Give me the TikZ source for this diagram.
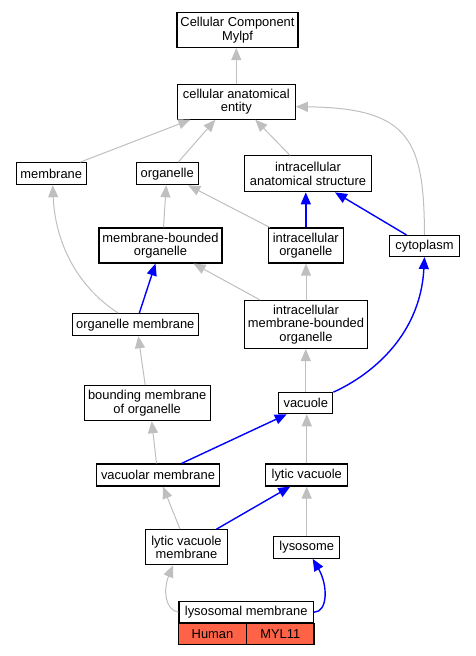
\documentclass[tikz,border=0pt]{standalone}
\usepackage{fontspec}
\setmainfont{Liberation Sans}
\usetikzlibrary{arrows.meta}
\definecolor{tomato}{RGB}{255,99,71}
\newcommand\termfont{\fontsize{12.9}{13.5}\selectfont}
\begin{document}
\begin{tikzpicture}[x=1pt,y=-1pt,
        term/.style={draw,line width=1.1pt,align=center,inner sep=0pt,
            font=\termfont},
        isa/.style={draw=gray!50,line width=1pt,-{Triangle[length=12pt,width=10pt]}},
        partof/.style={draw=blue,line width=1.4pt,-{Triangle[length=12pt,width=10pt]}}]

\useasboundingbox (0,0) rectangle (475,656);

\node[term,minimum width=121pt,minimum height=35pt] (mylpf) at (237.5,30) {Cellular Component\\Mylpf};
\node[term,minimum width=118pt,minimum height=35pt] (cae) at (236.3,101.7) {cellular anatomical\\entity};
\node[term,minimum width=70pt,minimum height=22pt] (mem) at (51.2,173.7) {membrane};
\node[term,minimum width=62pt,minimum height=22pt] (org) at (167.2,173.7) {organelle};
\node[term,minimum width=127pt,minimum height=36pt] (ias) at (308,173.8) {intracellular\\anatomical structure};
\node[term,minimum width=123pt,minimum height=35pt] (mbo) at (160.5,245.5) {membrane-bounded\\organelle};
\node[term,minimum width=75pt,minimum height=35pt] (io) at (305.8,245.5) {intracellular\\organelle};
\node[term,minimum width=70pt,minimum height=21pt] (cyt) at (424.5,246) {cytoplasm};
\node[term,minimum width=126pt,minimum height=22pt] (om) at (135.3,324.7) {organelle membrane};
\node[term,minimum width=123pt,minimum height=48pt] (imbo) at (306,324.5) {intracellular\\membrane-bounded\\organelle};
\node[term,minimum width=126pt,minimum height=35pt] (bmo) at (147.2,403.2) {bounding membrane\\of organelle};
\node[term,minimum width=54pt,minimum height=21pt] (vac) at (305.8,403.2) {vacuole};
\node[term,minimum width=123pt,minimum height=22pt] (vm) at (158,475) {vacuolar membrane};
\node[term,minimum width=82pt,minimum height=22pt] (lv) at (306.8,475) {lytic vacuole};
\node[term,minimum width=82pt,minimum height=35pt] (lvm) at (186.5,547.2) {lytic vacuole\\membrane};
\node[term,minimum width=66pt,minimum height=22pt] (lys) at (306.7,547.3) {lysosome};
\node[term,minimum width=134.5pt,minimum height=21.5pt] (lm) at (246.2,612.2) {lysosomal membrane};
\node[term,fill=tomato,minimum width=67.3pt,minimum height=21pt] (human) at (212.5,634.2) {Human};
\node[term,fill=tomato,minimum width=67.3pt,minimum height=21pt] (myl) at (280.3,634.2) {MYL11};

\draw[isa] (cae.north) -- (cae.north |- mylpf.south);
\draw[isa] ([xshift=29pt]mem.north) -- ([xshift=-46pt]cae.south);
\draw[isa] ([xshift=11pt]org.north) -- ([xshift=-21pt]cae.south);
\draw[isa] ([xshift=-18pt]ias.north) -- ([xshift=19pt]cae.south);
\draw[isa] (cyt.north) .. controls (424,140) and (410,108) .. ([yshift=-5pt]cae.east);
\draw[isa] ([xshift=3pt]mbo.north) -- ([xshift=-1pt]org.south);
\draw[isa] ([xshift=-36pt]io.north) -- ([xshift=21pt]org.south);
\draw[partof] (io.north) -- (io.north |- ias.south);
\draw[partof] ([xshift=-18pt]cyt.north) -- ([xshift=27pt]ias.south);
\draw[isa] ([xshift=-17pt]om.north) .. controls (75,285) and (55,240) .. ([xshift=1.5pt]mem.south);
\draw[partof] ([xshift=4pt]om.north) -- ([xshift=-5pt]mbo.south);
\draw[isa] ([xshift=-46pt]imbo.north) -- ([xshift=33pt]mbo.south);
\draw[isa] (imbo.north) -- (imbo.north |- io.south);
\draw[isa] ([xshift=-2pt]bmo.north) -- ([xshift=3pt]om.south);
\draw[isa] (vac.north) -- (vac.north |- imbo.south);
\draw[partof] (vac.north east) .. controls (365,378) and (420,340) .. (cyt.south);
\draw[isa] ([xshift=-1.5pt]vm.north) -- ([xshift=4.5pt]bmo.south);
\draw[partof] ([xshift=23.5pt]vm.north) -- ([xshift=-19pt]vac.south);
\draw[isa] (lv.north) -- (lv.north |- vac.south);
\draw[isa] ([xshift=-6.5pt]lvm.north) -- ([xshift=5pt]vm.south);
\draw[partof] ([xshift=30pt]lvm.north) -- ([xshift=-16.5pt]lv.south);
\draw[isa] (lys.north) -- (lys.north |- lv.south);
\draw[isa] (lm.west) .. controls (165,610) and (163,590) .. ([xshift=-13.5pt]lvm.south);
\draw[partof] (lm.east) .. controls (328,612) and (328,585) .. ([xshift=6pt]lys.south);
\end{tikzpicture}
\end{document}
